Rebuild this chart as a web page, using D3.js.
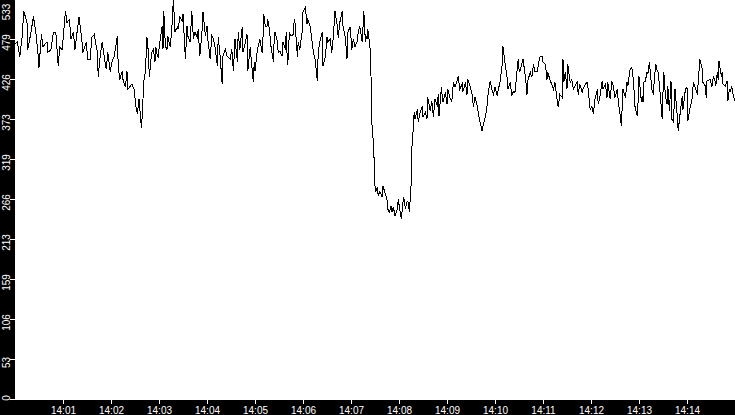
<!DOCTYPE html>
<html><head><meta charset="utf-8">
<script src="https://cdn.jsdelivr.net/npm/d3@7"></script>
<style>html,body{margin:0;padding:0;background:#000;overflow:hidden}svg{display:block}</style>
</head><body><svg id="c" width="735" height="415"></svg>
<script>
const day = "2000-01-01";
const startTime = "14:00:00";
const endTime = "14:15:00";
const yMax = 533.3;
const yTickCount = 10;
const xTickLabels = ["14:01","14:02","14:03","14:04","14:05","14:06","14:07","14:08","14:09","14:10","14:11","14:12","14:13","14:14"];

// seconds since 14:00:00
const seconds = [
0,3,6,9,11,15,16,20,23,26,29,30,33,35,40,41,45,48,51,54,56,59,63,65,68,70,73,75,78,80,83,85,89,91,94,96,99,103,104,106,109,111,114,116,119,121,124,128,129,131,134,135,138,140,141,144,146,149,
151,153,155,158,159,160,161,163,165,166,168,170,171,173,175,176,178,179,181,184,185,186,188,190,191,194,196,198,200,203,204,206,209,210,213,215,216,219,221,223,225,228,229,231,234,235,238,240,241,244,246,248,250,253,254,256,259,260,263,265,266,269,271,273,275,278,279,281,284,285,288,290,291,294,
296,298,299,300,303,304,306,309,310,311,313,315,316,318,320,323,324,325,328,329,331,334,335,338,339,340,341,343,345,348,349,350,353,354,356,359,360,363,365,366,369,371,373,375,378,379,381,384,385,388,390,391,394,396,398,400,401,403,404,406,409,410,413,415,416,419,421,423,425,428,429,431,434,435,436,438,439,440,441,443,444,
445,446,448,449,450,451,453,454,456,459,460,463,465,466,468,470,471,473,475,478,479,481,483,485,486,488,490,491,493,495,496,498,
499,500,503,504,506,509,510,513,515,516,519,521,523,525,528,529,530,533,534,535,538,540,541,544,546,548,550,553,554,556,559,560,563,565,566,569,571,573,575,578,579,581,584,585,588,590,591,594,596,598,600,603,604,606,609,610,613,615,616,619,621,623,625,628,629,630,
631,634,635,638,640,641,644,646,648,650,653,654,656,659,660,663,665,666,669,671,673,675,678,679,681,684,685,686,688,690,691,693,694,696,698,700,703,704,706,709,710,713,715,716,719,721,723,725,728,729,731,734,735,738,740,741,744,746,748,750,753,754,756,758,759,760,763,765,766,
769,771,773,775,778,779,780,783,784,785,786,788,790,791,793,795,796,798,799,800,801,803,804,806,809,810,811,813,815,816,818,820,821,823,825,828,829,831,834,835,838,840,841,844,846,848,850,853,854,856,859,860,863,864,865,866,869,871,873,875,876,878,879,880,883,884,885,888,890,891,893,894,896,898,900
];
const values = [
473,476,456,484,517,502,466,489,510,489,457,442,486,470,476,462,466,489,489,444,469,466,517,502,506,480,489,466,493,509,484,462,476,453,453,482,486,462,430,453,476,460,440,462,436,449,457,484,444,426,437,426,416,437,413,417,420,413,
390,380,400,362,377,400,424,437,482,473,430,453,462,466,450,469,457,456,476,497,466,517,470,466,484,469,493,533,490,496,493,509,504,513,453,497,484,476,517,480,489,482,493,457,493,516,484,497,480,453,484,480,470,444,482,462,420,457,466,457,456,453,466,437,480,449,489,466,496,462,476,486,437,469,
444,422,449,437,466,470,480,462,482,513,496,497,506,493,470,450,480,489,477,462,464,457,476,466,489,462,446,489,484,486,506,502,456,476,466,490,516,522,500,506,497,480,462,453,424,462,476,489,444,456,482,476,480,462,484,517,509,497,482,502,517,497,482,453,489,496,466,480,470,477,490,497,476,496,517,476,484,480,493,476,466,
430,369,342,316,284,276,283,271,277,269,284,273,266,253,249,257,249,256,244,253,266,253,240,263,269,253,263,264,250,283,333,364,
382,373,386,370,380,390,376,382,373,402,384,397,376,400,390,406,377,416,404,396,409,393,413,400,397,422,416,426,430,413,420,410,422,406,426,416,409,390,402,390,382,370,357,364,376,390,404,424,413,406,416,404,413,420,446,470,444,430,413,422,404,410,409,442,453,440,
436,449,453,430,406,424,436,429,446,436,437,444,456,457,449,446,426,436,424,420,413,422,396,389,406,402,453,422,436,413,446,430,422,426,413,417,424,406,420,409,413,420,422,417,386,390,380,400,413,393,402,424,413,420,402,422,400,424,417,402,413,397,382,364,390,413,402,422,417,
440,442,426,390,377,400,430,396,404,396,422,424,436,433,449,426,413,406,424,436,446,437,436,413,373,409,436,404,393,417,384,424,373,370,413,376,357,377,404,386,413,416,370,390,396,422,416,406,422,453,440,422,417,402,424,424,426,416,430,424,417,436,426,450,430,436,420,417,424,397,413,410,417,404,397
];

const W = 735, H = 415;
const plot = {left: 15, right: 735, top: 0, bottom: 400};
const t0 = new Date(`${day}T${startTime}`);
const data = seconds.slice(0, Math.min(seconds.length, values.length))
  .map((s, i) => ({t: d3.timeSecond.offset(t0, s), v: values[i]}));

const svg = d3.select("#c");
svg.append("rect").attr("width", W).attr("height", H).attr("fill", "#000");
svg.append("rect").attr("x", plot.left).attr("y", plot.top)
  .attr("width", plot.right - plot.left).attr("height", plot.bottom - plot.top).attr("fill", "#fff");

const x = d3.scaleTime().domain([t0, new Date(`${day}T${endTime}`)]).range([plot.left, plot.right]);
const y = d3.scaleLinear().domain([0, yMax]).range([plot.bottom - 1, plot.top - 1]);

svg.append("clipPath").attr("id", "clip").append("rect")
  .attr("x", plot.left).attr("y", plot.top).attr("width", plot.right - plot.left).attr("height", plot.bottom - plot.top);

svg.append("path").datum(data)
  .attr("clip-path", "url(#clip)")
  .attr("fill", "none").attr("stroke", "#000").attr("stroke-width", 1)
  .attr("shape-rendering", "crispEdges")
  .attr("d", d3.line().x(d => x(d.t)).y(d => y(d.v)));

// X axis
const xTicks = xTickLabels.map(l => new Date(`${day}T${l}:00`));
const gx = svg.append("g").attr("transform", `translate(0,${plot.bottom})`)
  .call(d3.axisBottom(x).tickValues(xTicks).tickFormat(d3.timeFormat("%H:%M")).tickSize(4).tickPadding(3));
gx.select(".domain").remove();
gx.selectAll(".tick line").attr("stroke", "#fff").attr("shape-rendering", "crispEdges");
gx.selectAll(".tick text").attr("fill", "#fff").attr("font-family", "'Liberation Sans', Arial, sans-serif").attr("font-size", 10);

// Y axis
const yTicks = d3.range(0, yTickCount + 1).map(i => yMax * i / yTickCount);
const gy = svg.append("g").attr("transform", `translate(${plot.left},0)`)
  .call(d3.axisLeft(y).tickValues(yTicks).tickFormat(d => Math.floor(d + 1e-9)).tickSize(5));
gy.select(".domain").remove();
gy.selectAll(".tick line").attr("stroke", "#fff").attr("shape-rendering", "crispEdges");
gy.selectAll(".tick text").each(function(d) {
  const ty = y(d);
  const cy = Math.max(11.5 - ty, Math.min(397.5 - ty, 3));
  d3.select(this)
    .attr("x", null).attr("dy", null)
    .attr("text-anchor", "middle")
    .attr("transform", `translate(-5,${cy}) rotate(-90)`)
    .attr("fill", "#fff")
    .attr("font-family", "'Liberation Sans', Arial, sans-serif")
    .attr("font-size", 10);
});
</script></body></html>
